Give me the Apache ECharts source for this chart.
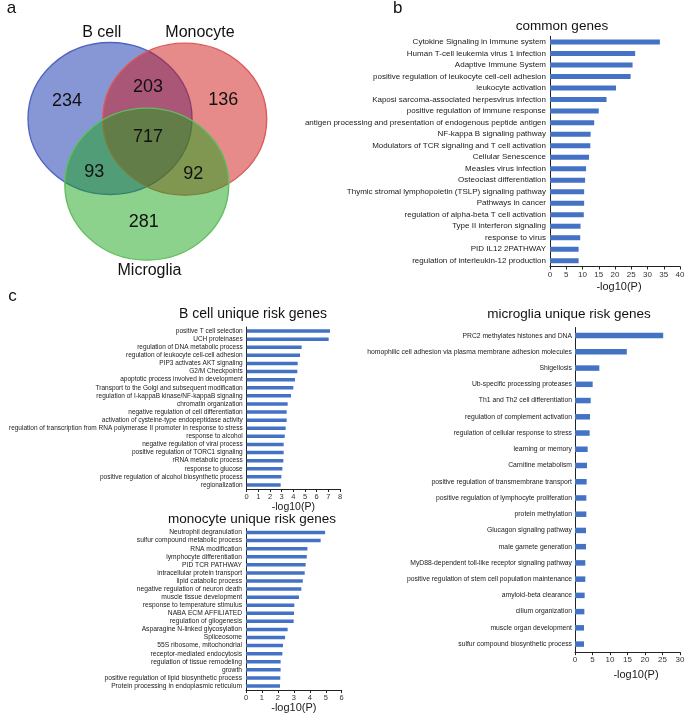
<!DOCTYPE html>
<html><head><meta charset="utf-8">
<script src="https://cdn.jsdelivr.net/npm/echarts@6/dist/echarts.min.js"></script>
<style>html,body{margin:0;padding:0;background:#fff}#c{width:685px;height:713px}</style>
</head><body><div id="c"></div>
<script>
// ---------- DATA ----------
const vennSets = ['B cell', 'Monocyte', 'Microglia'];
const vennRegions = ['B cell only', 'B cell & Monocyte', 'Monocyte only', 'All three', 'B cell & Microglia', 'Monocyte & Microglia', 'Microglia only'];
const vennCounts = [234, 203, 136, 717, 93, 92, 281];

const commonTerms = [
  'Cytokine Signaling in Immune system',
  'Human T-cell leukemia virus 1 infection',
  'Adaptive Immune System',
  'positive regulation of leukocyte cell-cell adhesion',
  'leukocyte activation',
  'Kaposi sarcoma-associated herpesvirus infection',
  'positive regulation of immune response',
  'antigen processing and presentation of endogenous peptide antigen',
  'NF-kappa B signaling pathway',
  'Modulators of TCR signaling and T cell activation',
  'Cellular Senescence',
  'Measles virus infection',
  'Osteoclast differentiation',
  'Thymic stromal lymphopoietin (TSLP) signaling pathway',
  'Pathways in cancer',
  'regulation of alpha-beta T cell activation',
  'Type II interferon signaling',
  'response to virus',
  'PID IL12 2PATHWAY',
  'regulation of interleukin-12 production'
];
const commonValues = [33.8, 26.2, 25.4, 24.8, 20.3, 17.4, 15.0, 13.6, 12.5, 12.4, 12.0, 11.1, 10.8, 10.5, 10.5, 10.4, 9.4, 9.3, 8.8, 8.8];

const bcellTerms = [
  'positive T cell selection',
  'UCH proteinases',
  'regulation of DNA metabolic process',
  'regulation of leukocyte cell-cell adhesion',
  'PIP3 activates AKT signaling',
  'G2/M Checkpoints',
  'apoptotic process involved in development',
  'Transport to the Golgi and subsequent modification',
  'regulation of I-kappaB kinase/NF-kappaB signaling',
  'chromatin organization',
  'negative regulation of cell differentiation',
  'activation of cysteine-type endopeptidase activity',
  'regulation of transcription from RNA polymerase II promoter in response to stress',
  'response to alcohol',
  'negative regulation of viral process',
  'positive regulation of TORC1 signaling',
  'rRNA metabolic process',
  'response to glucose',
  'positive regulation of alcohol biosynthetic process',
  'regionalization'
];
const bcellValues = [7.14, 7.03, 4.71, 4.57, 4.37, 4.34, 4.14, 4.0, 3.80, 3.51, 3.43, 3.43, 3.34, 3.26, 3.17, 3.17, 3.14, 3.06, 2.97, 2.91];

const monoTerms = [
  'Neutrophil degranulation',
  'sulfur compound metabolic process',
  'RNA modification',
  'lymphocyte differentiation',
  'PID TCR PATHWAY',
  'intracellular protein transport',
  'lipid catabolic process',
  'negative regulation of neuron death',
  'muscle tissue development',
  'response to temperature stimulus',
  'NABA ECM AFFILIATED',
  'regulation of gliogenesis',
  'Asparagine N-linked glycosylation',
  'Spliceosome',
  '55S ribosome, mitochondrial',
  'receptor-mediated endocytosis',
  'regulation of tissue remodeling',
  'growth',
  'positive regulation of lipid biosynthetic process',
  'Protein processing in endoplasmic reticulum'
];
const monoValues = [4.96, 4.68, 3.85, 3.81, 3.74, 3.68, 3.56, 3.47, 3.32, 3.03, 3.01, 2.99, 2.61, 2.45, 2.32, 2.28, 2.17, 2.17, 2.15, 2.13];

const microTerms = [
  'PRC2 methylates histones and DNA',
  'homophilic cell adhesion via plasma membrane adhesion molecules',
  'Shigellosis',
  'Ub-specific processing proteases',
  'Th1 and Th2 cell differentiation',
  'regulation of complement activation',
  'regulation of cellular response to stress',
  'learning or memory',
  'Carnitine metabolism',
  'positive regulation of transmembrane transport',
  'positive regulation of lymphocyte proliferation',
  'protein methylation',
  'Glucagon signaling pathway',
  'male gamete generation',
  'MyD88-dependent toll-like receptor signaling pathway',
  'positive regulation of stem cell population maintenance',
  'amyloid-beta clearance',
  'cilium organization',
  'muscle organ development',
  'sulfur compound biosynthetic process'
];
const microValues = [25.2, 14.8, 6.95, 5.05, 4.48, 4.29, 4.19, 3.62, 3.43, 3.33, 3.24, 3.24, 3.14, 3.14, 2.95, 2.95, 2.76, 2.67, 2.57, 2.57];

const axisTitle = '-log10(P)';
const panelTitles = ['common genes', 'B cell unique risk genes', 'monocyte unique risk genes', 'microglia unique risk genes'];

// ---------- LAYOUT (venn diagram placement, in venn-grid units = px) ----------
const vennCircleCenters = [[110, 118.5], [184.7, 119.2], [146.8, 184.2]];
const vennCircleSize = [164, 152];
const vennSetLabelPos = [[101.7, 32.5], [200, 32.5], [149.5, 270.5]];
const vennCountPos = [[67, 100.7], [148, 87.3], [223.3, 100], [148, 137.3], [94.3, 172.3], [193.3, 174], [143.7, 221.7]];

const FONT = '"Liberation Sans", Arial, Helvetica, sans-serif';
const fills = ['rgba(15,47,173,0.5)', 'rgba(205,21,21,0.5)', 'rgba(25,163,25,0.5)'];
const strokes = ['#4f63c2', '#dc5a5a', '#5fbf5f'];
const ellipsePath = 'path://M50,0C77.6,0,100,22.4,100,50C100,77.6,77.6,100,50,100C22.4,100,0,77.6,0,50C0,22.4,22.4,0,50,0Z';
const BAR = '#4472C4';
const AX = '#222';

function catAxis(gi, data, fs, margin) {
  return {
    type: 'category', gridIndex: gi, data: data, inverse: true,
    axisLine: { show: true, lineStyle: { color: AX, width: 1 } },
    axisTick: { show: false },
    axisLabel: { interval: 0, fontSize: fs, color: '#1a1a1a', margin: margin, fontFamily: FONT },
    splitLine: { show: false }
  };
}
function valAxis(gi, max, interval, fs, nameFs, nameGap, padLeft) {
  return {
    type: 'value', gridIndex: gi, min: 0, max: max, interval: interval,
    name: axisTitle, nameLocation: 'middle', nameGap: nameGap,
    nameTextStyle: { fontSize: nameFs, color: '#1a1a1a', padding: [0, 0, 0, padLeft], fontFamily: FONT },
    axisLine: { show: true, onZero: false, lineStyle: { color: AX, width: 1 } },
    axisTick: { show: true, length: 3, lineStyle: { color: AX } },
    axisLabel: { fontSize: fs, color: '#333', margin: 4, fontFamily: FONT },
    splitLine: { show: false }
  };
}
function barSeries(gi, values, bw) {
  return { type: 'bar', xAxisIndex: gi, yAxisIndex: gi, data: values, barWidth: bw, silent: true,
    itemStyle: { color: BAR } };
}
function txt(t, x, y, size, align) {
  return { type: 'text', x: x, y: y, silent: true,
    style: { text: t, fill: '#111', fontSize: size, fontFamily: FONT, align: align || 'center', verticalAlign: 'middle' } };
}

const option = {
  animation: false,
  backgroundColor: '#fff',
  textStyle: { fontFamily: FONT },
  grid: [
    { left: 0, top: 0, width: 330, height: 290, outerBoundsMode: 'none' },
    { left: 550, top: 36.3, width: 130, height: 230.2, outerBoundsMode: 'none' },
    { left: 246.7, top: 327, width: 93.3, height: 162, outerBoundsMode: 'none' },
    { left: 246, top: 528.5, width: 95.7, height: 161.5, outerBoundsMode: 'none' },
    { left: 575, top: 327.5, width: 105, height: 324.7, outerBoundsMode: 'none' }
  ],
  xAxis: [
    { type: 'value', gridIndex: 0, min: 0, max: 330, show: false },
    valAxis(1, 40, 5, 8, 11, 15, 8),
    valAxis(2, 8, 1, 7.5, 10.5, 8.5, 0),
    valAxis(3, 6, 1, 7.5, 11, 11.5, 0),
    valAxis(4, 30, 5, 8, 11, 17, 17)
  ],
  yAxis: [
    { type: 'value', gridIndex: 0, min: 0, max: 290, inverse: true, show: false },
    catAxis(1, commonTerms, 8, 4),
    catAxis(2, bcellTerms, 6.5, 4),
    catAxis(3, monoTerms, 6.7, 4),
    catAxis(4, microTerms, 6.8, 3)
  ],
  series: [
    {
      type: 'scatter', xAxisIndex: 0, yAxisIndex: 0, silent: true, z: 1,
      symbol: ellipsePath, symbolSize: vennCircleSize,
      data: vennSets.map((s, i) => ({
        name: s, value: vennCircleCenters[i],
        itemStyle: { color: fills[i], borderColor: strokes[i], borderWidth: 1.3, opacity: 1 }
      }))
    },
    {
      type: 'scatter', xAxisIndex: 0, yAxisIndex: 0, silent: true, z: 3,
      symbolSize: 1, itemStyle: { color: 'rgba(255,255,255,0)', opacity: 1 },
      label: { show: true, position: 'inside', fontSize: 16, color: '#111', opacity: 1, fontFamily: FONT, formatter: p => p.name },
      data: vennSets.map((s, i) => ({ name: s, value: vennSetLabelPos[i] }))
    },
    {
      type: 'scatter', xAxisIndex: 0, yAxisIndex: 0, silent: true, z: 3,
      symbolSize: 1, itemStyle: { color: 'rgba(255,255,255,0)', opacity: 1 },
      label: { show: true, position: 'inside', fontSize: 18, color: '#111', opacity: 1, fontFamily: FONT, formatter: p => String(vennCounts[p.dataIndex]) },
      data: vennRegions.map((r, i) => ({ name: r, value: vennCountPos[i] }))
    },
    barSeries(1, commonValues, 5),
    barSeries(2, bcellValues, 3.5),
    barSeries(3, monoValues, 3.5),
    barSeries(4, microValues, 5.5)
  ],
  graphic: [
    txt('a', 11.5, 8.5, 17),
    txt('b', 397.7, 8, 17),
    txt('c', 12.5, 296.5, 17),
    txt(panelTitles[0], 562, 26, 13.5),
    txt(panelTitles[1], 253, 314, 14),
    txt(panelTitles[2], 252, 519.5, 13.5),
    txt(panelTitles[3], 569, 314, 13.5)
  ]
};

const chart = echarts.init(document.getElementById('c'), null, { renderer: 'canvas' });
chart.setOption(option);
</script></body></html>
